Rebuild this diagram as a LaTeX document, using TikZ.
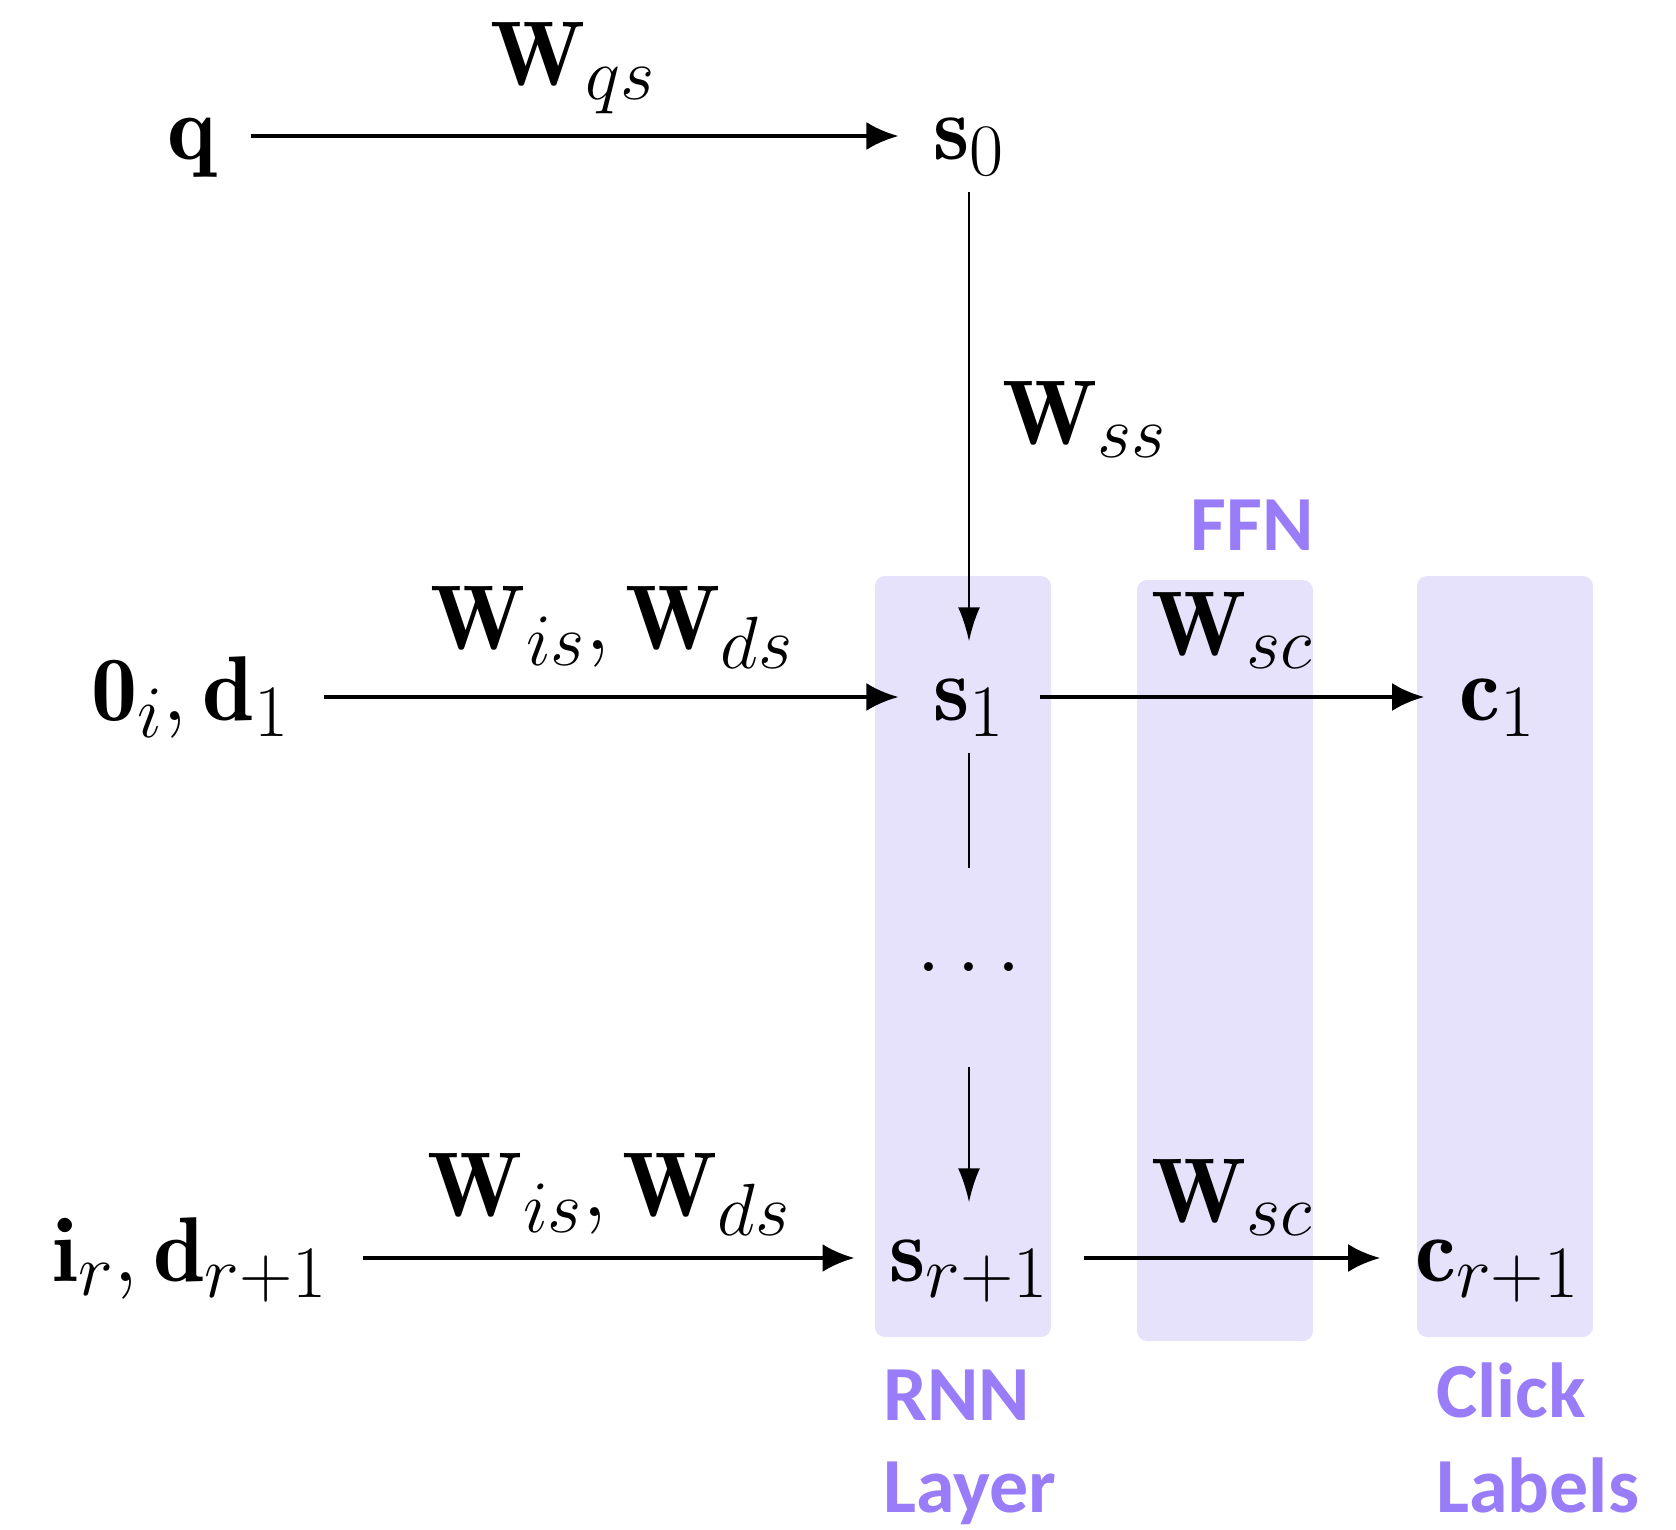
\RequirePackage{fix-cm}
\documentclass[tikz,border=0pt]{standalone}
\usepackage{fontspec}
\newfontfamily\lblfont{Carlito}
\usetikzlibrary{arrows.meta}
\DeclareMathSizes{92}{92}{74}{55}
\definecolor{boxfill}{RGB}{230,226,252}
\definecolor{lblcol}{RGB}{152,124,248}
\begin{document}
\begin{tikzpicture}[x=1pt,y=-1pt,
  mathnode/.style={font=\fontsize{92}{106}\selectfont, text height=67pt, text depth=20pt, inner xsep=35pt, inner ysep=12pt},
  wlbl/.style={font=\fontsize{92}{106}\selectfont, anchor=base, inner sep=0pt},
  harr/.style={line width=4pt, -{Latex[length=32pt,width=28pt]}},
  vlin/.style={line width=2.5pt},
  varr/.style={vlin, -{Latex[length=34pt,width=22pt]}},
  colbox/.style={fill=boxfill, rounded corners=10pt},
  purp/.style={font=\lblfont\bfseries\fontsize{78}{95}\selectfont, text=lblcol, inner sep=0pt}
]
\useasboundingbox (0,0) rectangle (1676,1530);
% column boxes
\fill[colbox] (875,576) rectangle (1051,1337);
\fill[colbox] (1137,580) rectangle (1313,1341);
\fill[colbox] (1417,576) rectangle (1593,1337);
% main nodes
\node[mathnode] (q) at (192,136) {$\mathbf{q}$};
\node[mathnode] (s0) at (969,136) {$\mathbf{s}_0$};
\node[mathnode] (x1) at (190,697) {$\mathbf{0}_i, \mathbf{d}_1$};
\node[mathnode] (s1) at (969,697) {$\mathbf{s}_1$};
\node[mathnode] (c1) at (1497,697) {$\mathbf{c}_1$};
\node[inner sep=0pt, minimum height=199pt, font=\fontsize{92}{106}\selectfont] (dots) at (969,967.5) {$\dots$};
\node[mathnode] (xr) at (190,1258) {$\mathbf{i}_r, \mathbf{d}_{r+1}$};
\node[mathnode] (sr) at (969,1258) {$\mathbf{s}_{r+1}$};
\node[mathnode] (cr) at (1497,1258) {$\mathbf{c}_{r+1}$};
% weight labels
\node[wlbl] (wqs) at (573,86) {$\mathbf{W}_{qs}$};
\node[wlbl] (wss) at (1084,444) {$\mathbf{W}_{ss}$};
\node[wlbl] (wis1) at (612,649) {$\mathbf{W}_{is}, \mathbf{W}_{ds}$};
\node[wlbl] (wsc1) at (1232,655) {$\mathbf{W}_{sc}$};
\node[wlbl] (wis2) at (609,1216) {$\mathbf{W}_{is}, \mathbf{W}_{ds}$};
\node[wlbl] (wsc2) at (1232,1222) {$\mathbf{W}_{sc}$};
% purple labels
\node[purp, anchor=base] (ffn) at (1252,550) {FFN};
\node[purp, anchor=base west] (rnn) at (883,1420) {RNN};
\node[purp, anchor=base west] (layer) at (883,1512) {Layer};
\node[purp, anchor=base west] (click) at (1436,1417) {Click};
\node[purp, anchor=base west] (labels) at (1436,1512) {Labels};
% connectors
\draw[harr] (q) -- (s0);
\draw[varr] (s0) -- (s1);
\draw[harr] (x1) -- (s1);
\draw[harr] (s1) -- (c1);
\draw[vlin] (s1) -- (dots);
\draw[varr] (dots) -- (sr);
\draw[harr] (xr) -- (sr);
\draw[harr] (sr) -- (cr);
\end{tikzpicture}
\end{document}
